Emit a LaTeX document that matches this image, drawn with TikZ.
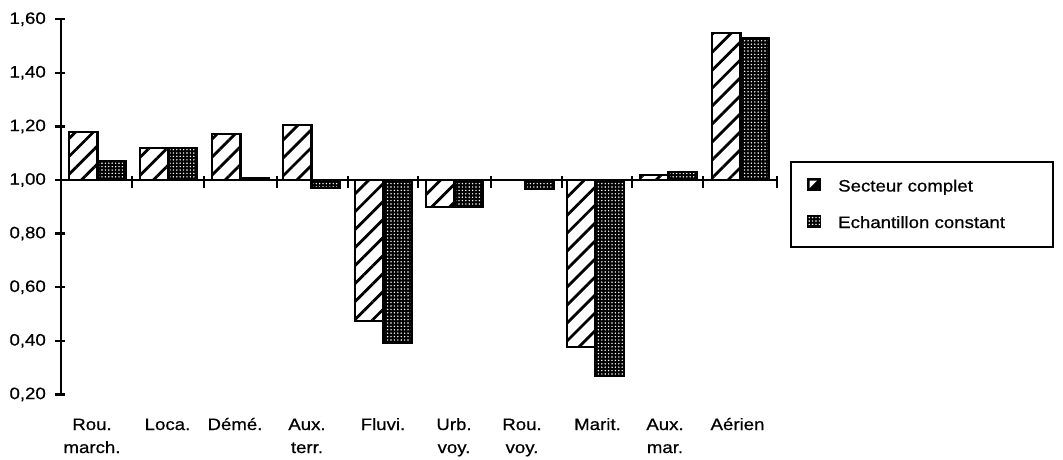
\documentclass[tikz,border=0pt]{standalone}
\usepackage{fontspec}
\setmainfont{Liberation Sans}[FakeStretch=1.13,FakeBold=0.6]
\usetikzlibrary{patterns.meta}
\tikzset{
  hatchbar/.style={draw=black, line width=2.1pt,
    pattern={Lines[angle=45,distance=12.7pt,line width=2.8pt]}, pattern color=black},
  dotbar/.style={preaction={fill=black}, draw=black, line width=2.1pt,
    pattern={Dots[distance=3.4pt,radius=0.8pt]}, pattern color=white},
  axisline/.style={line width=2.8pt, line cap=butt},
  tickline/.style={line width=2.5pt},
  lbl/.style={inner sep=0pt, font=\fontsize{16.5}{20}\selectfont},
  legendbox/.style={draw=black, line width=2.2pt}
}
\begin{document}
\begin{tikzpicture}[x=1pt,y=-1pt]
\useasboundingbox (0,0) rectangle (1063,459);
% bars: start x / hatched value / dotted value
\foreach \n/\x/\a/\b in {1/69/1.18/1.07, 2/140/1.12/1.12, 3/212/1.17/1.006,
    4/283/1.205/0.97, 5/355/0.474/0.392, 6/426/0.90/0.90, 7/497/1.0/0.967,
    8/567/0.377/0.27, 9/640/1.018/1.03, 10/712/1.548/1.53}{
  \path[hatchbar] (\x,180) rectangle ({\x+28.5},{448-268*\a});
  \path[dotbar] ({\x+28.5},180) rectangle ({\x+57},{448-268*\b});
}
% y axis
\coordinate (ytop) at (61,19);
\coordinate (ybot) at (61,395);
\draw[axisline] (ytop) -- (ybot);
\foreach \v/\t in {1.6/{1,60},1.4/{1,40},1.2/{1,20},1.0/{1,00},0.8/{0,80},0.6/{0,60},0.4/{0,40},0.2/{0,20}}{
  \draw[tickline] (55,{448-268*\v}) -- (65,{448-268*\v});
  \node[lbl, anchor=east] (ylab\v) at (46,{448-268*\v}) {\t};
}
% x axis
\coordinate (xl) at (61,180);
\coordinate (xr) at (778,180);
\draw[axisline] (xl) -- (xr);
\foreach \x in {132,204,277,348,418,491,562,632,703,777}{
  \draw[tickline] (\x,176) -- (\x,188);
}
% category labels
\foreach \c/\p/\q in {92/Rou./march., 167.5/Loca./, 235/Démé./, 307/Aux./terr.,
    383/Fluvi./, 454/Urb./voy., 522/Rou./voy., 597.5/Marit./, 665/Aux./mar., 737.5/Aérien/}{
  \node[lbl, anchor=base] (ca\c) at (\c,430) {\p};
  \node[lbl, anchor=base] (cb\c) at (\c,453) {\q};
}
% legend
\draw[legendbox] (791,162) rectangle (1053,247);
\fill[black] (807,178) rectangle (821,191);
\fill[white] (809.5,180.5) -- (817,180.5) -- (809.5,188) -- cycle;
\path[dotbar, line width=1.4pt] (807.5,215.5) rectangle (820.5,227.5);
\node[lbl, anchor=base west] (leg1) at (838,191.5) {Secteur complet};
\node[lbl, anchor=base west] (leg2) at (838,228) {Echantillon constant};
\end{tikzpicture}
\end{document}
